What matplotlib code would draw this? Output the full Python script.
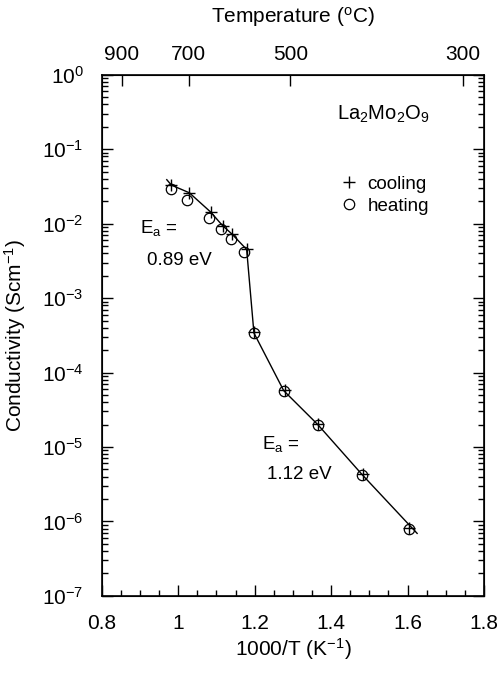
import numpy as np
import matplotlib.pyplot as plt
from matplotlib.ticker import MultipleLocator, LogLocator, NullFormatter

plt.rcParams['font.family'] = ['Liberation Sans', 'DejaVu Sans']
plt.rcParams['mathtext.fontset'] = 'custom'
plt.rcParams['mathtext.rm'] = 'Liberation Sans'
plt.rcParams['mathtext.it'] = 'Liberation Sans'

# data
heat_x = [0.980, 1.024, 1.081, 1.111, 1.137, 1.173, 1.198, 1.276, 1.365, 1.482, 1.603]
heat_y = [2.9e-2, 2.1e-2, 1.19e-2, 8.4e-3, 6.2e-3, 4.1e-3, 3.4e-4, 5.7e-5, 2.0e-5, 4.2e-6, 8.0e-7]
cool_x = [0.982, 1.029, 1.085, 1.116, 1.140, 1.179, 1.199, 1.278, 1.366, 1.484, 1.605]
cool_y = [3.3e-2, 2.6e-2, 1.43e-2, 9.4e-3, 7.3e-3, 4.5e-3, 3.5e-4, 5.8e-5, 2.05e-5, 4.3e-6, 8.1e-7]
line_x = [0.970, 0.982, 1.029, 1.085, 1.116, 1.140, 1.179, 1.198, 1.276, 1.365, 1.482, 1.625]
line_y = [3.9e-2, 3.3e-2, 2.6e-2, 1.43e-2, 9.4e-3, 7.3e-3, 4.5e-3, 3.4e-4, 5.7e-5, 2.0e-5, 4.2e-6, 6.9e-7]
temp_labels = [900, 700, 500, 300]
x_labels = ['0.8', '1', '1.2', '1.4', '1.6', '1.8']

fs = 15     # axis labels / ticks
fs_t = 13.5  # annotations

fig = plt.figure(figsize=(4.99, 6.74), dpi=100)
ax = fig.add_axes([0.204, 0.116, 0.766, 0.773])

ax.plot(line_x, line_y, '-', color='black', lw=1)
ax.plot(cool_x, cool_y, '+', color='black', ms=9, mew=1, ls='none', label='cooling')
ax.plot(heat_x, heat_y, 'o', color='black', mfc='none', ms=7.5, mew=0.9, ls='none', label='heating')

ax.set_yscale('log')
ax.set_xlim(0.8, 1.8)
ax.set_ylim(1e-7, 1)
ax.set_xticks([0.8, 1.0, 1.2, 1.4, 1.6, 1.8])
ax.set_xticklabels(x_labels)
ax.xaxis.set_minor_locator(MultipleLocator(0.05))
ax.yaxis.set_major_locator(LogLocator(base=10, numticks=20))
ax.yaxis.set_minor_locator(LogLocator(base=10, subs=np.arange(2, 10), numticks=20))
ax.yaxis.set_minor_formatter(NullFormatter())
ax.tick_params(which='both', direction='in', right=True, labelsize=fs, width=1)
ax.tick_params(which='major', length=8)
ax.tick_params(which='minor', length=4)
ax.tick_params(axis='x', which='both', top=False, pad=13)
ax.tick_params(axis='y', which='both', pad=13)
for s in ax.spines.values():
    s.set_linewidth(1.2)

ax.set_xlabel('1000/T (K$^{-1}$)', fontsize=fs, labelpad=2)
ax.set_ylabel('Conductivity (Scm$^{-1}$)', fontsize=fs, labelpad=10)

# top temperature axis
ax2 = ax.twiny()
ax2.set_xlim(ax.get_xlim())
ax2.set_xticks([1000 / (t + 273.15) for t in temp_labels])
ax2.set_xticklabels([str(t) for t in temp_labels])
ax2.tick_params(which='both', direction='in', labelsize=fs, width=1, length=8, pad=8)
ax2.set_xlabel('Temperature ($^{\\mathrm{o}}$C)', fontsize=fs, labelpad=16)

ax.text(1.415, 0.248, 'La$_2$Mo$_2$O$_9$', fontsize=14.5, ha='left', va='baseline')
ax.text(0.900, 7.5e-3, 'E$_\\mathrm{a}$ =', fontsize=fs_t, ha='left', va='baseline')
ax.text(0.918, 2.8e-3, '0.89 eV', fontsize=fs_t, ha='left', va='baseline')
ax.text(1.219, 9.4e-6, 'E$_\\mathrm{a}$ =', fontsize=fs_t, ha='left', va='baseline')
ax.text(1.232, 3.7e-6, '1.12 eV', fontsize=fs_t, ha='left', va='baseline')

ax.legend(loc='upper left', bbox_to_anchor=(0.621, 0.806), frameon=False, fontsize=fs_t,
          handlelength=1.0, handletextpad=0.5, labelspacing=0.25, borderaxespad=0, borderpad=0)

fig.savefig('out.png', dpi=100)
